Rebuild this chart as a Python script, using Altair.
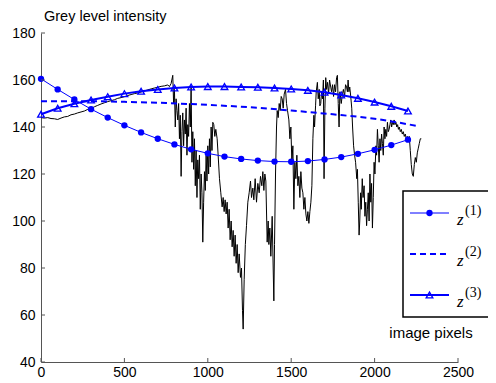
import altair as alt
import pandas as pd

# ---- data ----
signal_x = [0, 20, 40, 60, 80, 100, 120, 140, 160, 180, 200, 220, 240, 260, 280, 300, 320, 340, 360, 380,
            400, 420, 440, 460, 480, 500, 520, 540, 560, 580, 600, 620, 640, 660, 680, 700, 720, 740, 760, 770,
            780, 790, 795, 800, 805, 810, 815, 820, 825, 830, 835, 840, 845, 850, 855, 860, 865, 870, 875, 880,
            885, 890, 895, 900, 905, 910, 915, 920, 925, 930, 935, 940, 945, 950, 955, 960, 965, 970, 975, 980,
            985, 990, 995, 1000, 1005, 1010, 1015, 1020, 1025, 1030, 1036, 1042, 1048, 1056, 1062, 1070, 1078, 1086, 1092, 1098,
            1104, 1110, 1116, 1122, 1128, 1134, 1140, 1146, 1152, 1158, 1164, 1170, 1176, 1182, 1188, 1196, 1202, 1208, 1212, 1218,
            1225, 1232, 1240, 1248, 1256, 1262, 1270, 1276, 1284, 1292, 1300, 1308, 1316, 1324, 1330, 1336, 1342, 1348, 1356, 1362,
            1366, 1372, 1378, 1386, 1392, 1396, 1400, 1406, 1412, 1416, 1422, 1428, 1434, 1440, 1446, 1452, 1458, 1466, 1472, 1478,
            1486, 1492, 1498, 1504, 1510, 1516, 1522, 1528, 1534, 1540, 1546, 1552, 1558, 1564, 1570, 1576, 1582, 1588, 1594, 1600,
            1606, 1612, 1618, 1624, 1630, 1636, 1640, 1646, 1650, 1657, 1662, 1668, 1672, 1677, 1682, 1688, 1693, 1697, 1702, 1707,
            1712, 1718, 1724, 1730, 1737, 1742, 1748, 1754, 1760, 1766, 1772, 1777, 1782, 1787, 1792, 1800, 1807, 1813, 1820, 1826,
            1832, 1837, 1841, 1846, 1851, 1857, 1863, 1868, 1874, 1880, 1886, 1893, 1897, 1902, 1907, 1911, 1916, 1920, 1926, 1931,
            1937, 1942, 1947, 1952, 1957, 1962, 1967, 1972, 1977, 1982, 1987, 1992, 1997, 2002, 2008, 2012, 2017, 2022, 2027, 2032,
            2037, 2042, 2047, 2052, 2057, 2062, 2067, 2072, 2077, 2082, 2087, 2092, 2097, 2102, 2107, 2112, 2117, 2122, 2128, 2133,
            2138, 2143, 2148, 2154, 2160, 2166, 2172, 2178, 2184, 2190, 2196, 2202, 2208, 2214, 2220, 2226, 2232, 2238, 2244, 2250,
            2256, 2262, 2268, 2274, 2280]
signal_y = [144, 143.8, 144, 143.6, 143.5, 143.2, 143.8, 144.3, 144.5, 145.2, 145.5, 146, 146.4, 146.8, 147.5, 147.8, 148.6, 149.2, 149.8, 150.3,
            150.8, 151.2, 151.6, 152.2, 152.5, 152.9, 153.4, 153.8, 154.2, 154.5, 154.9, 155.3, 155.8, 156.2, 156.6, 156.9, 157.3, 157.5, 157.9, 157.2,
            158.5, 162, 150, 156, 140, 152, 147, 143, 150, 135, 145, 119, 138, 146, 132, 143, 137, 148, 128, 141,
            136, 150, 140, 157, 125, 138, 122, 135, 115, 130, 110, 126, 118, 128, 105, 120, 112, 91, 108, 121,
            113, 128, 117, 132, 120, 135, 123, 140, 130, 142, 141, 136, 139, 135, 128, 118, 112, 106, 110, 104,
            109, 103, 108, 97, 105, 92, 100, 89, 96, 85, 94, 82, 90, 78, 86, 76, 80, 62, 54, 75,
            90, 98, 108, 112, 117, 110, 114, 109, 118, 108, 116, 112, 119, 115, 121, 113, 120, 117, 91, 100,
            90, 97, 85, 102, 80, 66, 90, 120, 140, 147, 144, 150, 147, 153, 152, 148, 154, 156, 150, 147,
            143, 135, 140, 125, 132, 105, 125, 118, 128, 115, 119, 110, 121, 114, 112, 105, 110, 103, 100, 104,
            99, 104, 108, 115, 135, 145, 140, 149, 155, 159, 152, 156, 149, 150, 155, 152, 160, 118, 148, 161,
            156, 159, 154, 160, 157, 155, 158, 153, 158, 155, 161, 162, 150, 140, 155, 150, 154, 156, 153, 158,
            157, 155, 160, 155, 157, 153, 148, 140, 132, 128, 125, 118, 122, 108, 94, 100, 112, 105, 118, 110,
            115, 102, 108, 98, 105, 112, 100, 120, 108, 116, 97, 110, 125, 120, 132, 128, 139, 132, 125, 135,
            130, 137, 133, 128, 140, 135, 139, 136, 142, 138, 139, 141, 143, 140, 142, 141, 143, 141, 142, 140,
            141, 139, 140, 138, 139, 137, 138, 136, 137, 135, 136, 134, 136, 130, 124, 120, 119, 124, 127, 125,
            129, 131, 133, 135, 135]

z1_x = [0, 100, 200, 300, 400, 500, 600, 700, 800, 900, 1000, 1100, 1200, 1300, 1400, 1500, 1600, 1700, 1800, 1900, 2000, 2100, 2200]
z1_y = [160.5, 156.0, 151.7, 147.6, 144.0, 140.7, 137.7, 135.0, 132.6, 130.5, 128.8, 127.4, 126.4, 125.7, 125.3, 125.2, 125.5, 126.2, 127.2, 128.6, 130.3, 132.3, 134.6]

z2_x = [0, 250, 500, 750, 1000, 1250, 1500, 1750, 2000, 2250]
z2_y = [151.0, 151.0, 150.7, 150.2, 149.4, 148.4, 147.0, 145.4, 143.5, 140.5]

z3_x = [0, 100, 200, 300, 400, 500, 600, 700, 800, 900, 1000, 1100, 1200, 1300, 1400, 1500, 1600, 1700, 1800, 1900, 2000, 2100, 2200]
z3_y = [145.4, 148.0, 149.9, 151.5, 152.9, 154.2, 155.2, 156.0, 156.6, 157.0, 157.2, 157.2, 157.0, 156.9, 156.6, 156.2, 155.6, 154.8, 153.6, 152.2, 150.6, 148.8, 146.8]

x_ticks = [0, 500, 1000, 1500, 2000, 2500]
y_ticks = [40, 60, 80, 100, 120, 140, 160, 180]
legend_sup = ["(1)", "(2)", "(3)"]
y_title = "Grey level intensity"
x_title = "image pixels"

BLUE = "#0000ff"
FONT = "Liberation Sans"
W, H = 417, 329

xs = alt.Scale(domain=[0, 2500], nice=False, zero=False)
ys = alt.Scale(domain=[40, 180], nice=False, zero=False)

x_axis = alt.Axis(values=x_ticks, format="d", labelFlush=False, ticks=False, tickSize=0, grid=False,
                  domainColor="#555555", labelFontSize=14, labelFont=FONT, labelColor="#000000", labelPadding=3,
                  title=None)
y_axis = alt.Axis(values=y_ticks, format="d", ticks=False, tickSize=0, grid=False, domainColor="#555555",
                  labelFontSize=14, labelFont=FONT, labelColor="#000000", labelPadding=6,
                  title=None)

sig = pd.DataFrame({"x": signal_x, "y": signal_y})
d1 = pd.DataFrame({"x": z1_x, "y": z1_y})
d2 = pd.DataFrame({"x": z2_x, "y": z2_y})
d3 = pd.DataFrame({"x": z3_x, "y": z3_y})

signal = alt.Chart(sig).mark_line(color="black", strokeWidth=1).encode(
    x=alt.X("x:Q", scale=xs, axis=x_axis),
    y=alt.Y("y:Q", scale=ys, axis=y_axis),
    order="x:Q",
)
line2 = alt.Chart(d2).mark_line(color=BLUE, strokeWidth=2, strokeDash=[6, 4], interpolate="monotone").encode(
    x=alt.X("x:Q", scale=xs), y=alt.Y("y:Q", scale=ys))
line1 = alt.Chart(d1).mark_line(color=BLUE, strokeWidth=1).encode(
    x=alt.X("x:Q", scale=xs), y=alt.Y("y:Q", scale=ys))
pts1 = alt.Chart(d1).mark_point(color=BLUE, filled=True, shape="circle", size=40, opacity=1).encode(
    x=alt.X("x:Q", scale=xs), y=alt.Y("y:Q", scale=ys))
line3 = alt.Chart(d3).mark_line(color=BLUE, strokeWidth=2).encode(
    x=alt.X("x:Q", scale=xs), y=alt.Y("y:Q", scale=ys))
pts3 = alt.Chart(d3).mark_point(color=BLUE, filled=False, shape="triangle-up", size=45, strokeWidth=1.3, opacity=1).encode(
    x=alt.X("x:Q", scale=xs), y=alt.Y("y:Q", scale=ys))

# inward ticks (MATLAB style)
yt = alt.Chart(pd.DataFrame({"v": y_ticks})).mark_rule(color="#555555", strokeWidth=1).encode(
    y=alt.Y("v:Q", scale=ys), x=alt.value(0), x2=alt.value(4))
xt = alt.Chart(pd.DataFrame({"v": x_ticks})).mark_rule(color="#555555", strokeWidth=1).encode(
    x=alt.X("v:Q", scale=xs), y=alt.value(H), y2=alt.value(H - 4))

one = pd.DataFrame({"a": [0]})

# axis titles
yt_txt = alt.Chart(one).mark_text(text=y_title, font=FONT, fontSize=14.5, align="left", baseline="alphabetic",
                                   color="black").encode(x=alt.value(3), y=alt.value(-12))
xt_txt = alt.Chart(one).mark_text(text=x_title, font=FONT, fontSize=15, align="center", baseline="alphabetic",
                                   color="black").encode(x=alt.value(390), y=alt.value(305))

# legend box
box = alt.Chart(one).mark_rect(fill="white", stroke="black", strokeWidth=1.5).encode(
    x=alt.value(362), x2=alt.value(490), y=alt.value(158), y2=alt.value(284))
lg_y = [180, 221, 262]
l1 = alt.Chart(one).mark_rule(color=BLUE, strokeWidth=1).encode(
    x=alt.value(369), x2=alt.value(408), y=alt.value(lg_y[0]))
p1 = alt.Chart(one).mark_point(color=BLUE, filled=True, shape="circle", size=40, opacity=1).encode(
    x=alt.value(388.5), y=alt.value(lg_y[0]))
l2 = alt.Chart(one).mark_rule(color=BLUE, strokeWidth=2, strokeDash=[6, 4]).encode(
    x=alt.value(369), x2=alt.value(408), y=alt.value(lg_y[1]))
l3 = alt.Chart(one).mark_rule(color=BLUE, strokeWidth=2).encode(
    x=alt.value(369), x2=alt.value(408), y=alt.value(lg_y[2]))
p3 = alt.Chart(one).mark_point(color=BLUE, filled=False, shape="triangle-up", size=45, strokeWidth=1.3, opacity=1).encode(
    x=alt.value(388.5), y=alt.value(lg_y[2]))

texts = []
for i, sup in enumerate(legend_sup):
    base = lg_y[i]
    texts.append(alt.Chart(one).mark_text(text="z", font="Liberation Serif", fontStyle="italic", fontSize=17,
                                          align="left", baseline="alphabetic", color="black").encode(
        x=alt.value(416), y=alt.value(base + 12)))
    texts.append(alt.Chart(one).mark_text(text=sup, font="Liberation Serif", fontSize=14,
                                          align="left", baseline="alphabetic", color="black").encode(
        x=alt.value(424), y=alt.value(base + 2)))

chart = alt.layer(signal, line2, line1, pts1, line3, pts3, yt, xt, yt_txt, xt_txt,
                  box, l1, p1, l2, l3, p3, *texts).properties(
    width=W, height=H,
    autosize=alt.AutoSizeParams(type="none"),
    padding={"left": 33, "top": 25, "right": 30, "bottom": 17},
    background="white",
).configure_view(stroke=None)

chart.save("out.html", embed_options={"renderer": "svg", "actions": False})
